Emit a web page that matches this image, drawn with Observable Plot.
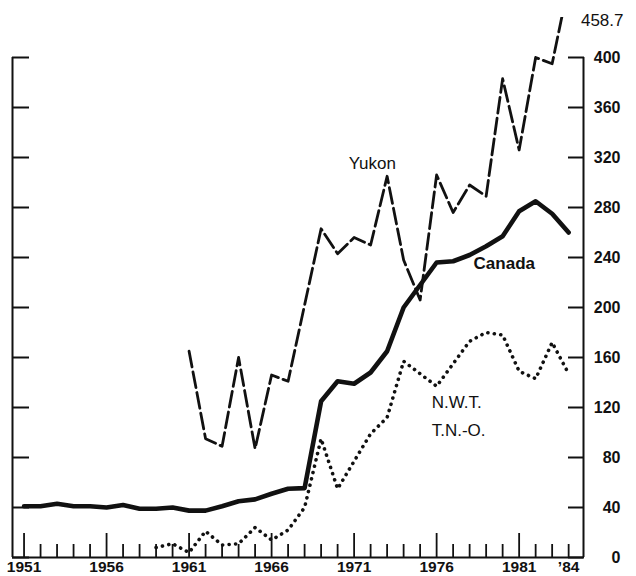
<!DOCTYPE html>
<html><head><meta charset="utf-8">
<script src="https://cdn.jsdelivr.net/npm/d3@7"></script>
<script src="https://cdn.jsdelivr.net/npm/@observablehq/plot@0.6"></script>
<style>html,body{margin:0;padding:0;background:#fff}#chart svg{display:block}</style>
</head><body><div id="chart"></div>
<script>
// ---- data ----
const canadaYears  = [1951,1952,1953,1954,1955,1956,1957,1958,1959,1960,1961,1962,1963,1964,1965,1966,1967,1968,1969,1970,1971,1972,1973,1974,1975,1976,1977,1978,1979,1980,1981,1982,1983,1984];
const canadaValues = [41,41,43,41,41,40,42,39,39,40,37.5,37.5,41,45,46.5,51,55,55.5,125,141,139,148,165,200,218,236,237,242,249,257,277,285,275,260];

const yukonYears  = [1961,1962,1963,1964,1965,1966,1967,1969,1970,1971,1972,1973,1974,1975,1976,1977,1978,1979,1980,1981,1982,1983,1984];
const yukonValues = [165,95,89,160,87,146,141,263,243,256,250,305,238,206,306,276,298,289,383,326,400,395,458.7];

const nwtYears  = [1959,1960,1961,1962,1963,1964,1965,1966,1967,1968,1969,1970,1971,1972,1973,1974,1975,1976,1977,1978,1979,1980,1981,1982,1983,1984];
const nwtValues = [8,11,4,21,10,11,24,14,22,40,95,55,77,99,112,157,147,137,155,173,180,178,149,143,172,147];

const yTicks      = [0,40,80,120,160,200,240,280,320,360,400];
const majorYears  = [1951,1956,1961,1966,1971,1976,1981];
const minorYears  = [1952,1953,1954,1955,1957,1958,1959,1960,1962,1963,1964,1965,1967,1968,1969,1970,1972,1973,1974,1975,1977,1978,1979,1980,1982,1983,1984];
const labelYears  = [1951,1956,1961,1966,1971,1976,1981,1984];
const labelText   = ["1951","1956","1961","1966","1971","1976","1981","’84"];

const annText = ["Yukon","Canada","N.W.T.","T.N.-O."];
const annX    = [1972.1,1980.1,1975.7,1975.7];
const annY    = [315,235,124,101.5];

const xDomain = [1950.3, 1984.9];
const yDomain = [0, 432];

// ---- build tables ----
const canada = canadaYears.map((y,i)=>({year:y, value:canadaValues[i]}));
const yukon  = yukonYears.map((y,i)=>({year:y, value:yukonValues[i]}));
const nwt    = nwtYears.map((y,i)=>({year:y, value:nwtValues[i]}));
const ann    = annText.map((t,i)=>({text:t, x:annX[i], y:annY[i]}));

const font = "'Liberation Sans', Arial, Helvetica, sans-serif";
const ink = "#111";

const chart = Plot.plot({
  width: 636, height: 576,
  marginLeft: 12, marginRight: 53, marginTop: 17, marginBottom: 19,
  style: {fontFamily: font, background: "#fff", color: ink, overflow: "visible"},
  x: {domain: xDomain, axis: null},
  y: {domain: yDomain, axis: null},
  marks: [
    // frame lines
    Plot.ruleY([0], {stroke: ink, strokeWidth: 2.2}),
    Plot.ruleX([xDomain[0]], {y1: 0, y2: yTicks[yTicks.length-1], stroke: ink, strokeWidth: 2}),
    Plot.ruleX([xDomain[1]], {y1: 0, y2: yTicks[yTicks.length-1], stroke: ink, strokeWidth: 2}),
    // inward ticks
    Plot.axisY(yTicks, {anchor: "left", tickSize: -17, strokeWidth: 2, tickFormat: () => "", label: null}),
    Plot.axisY(yTicks, {anchor: "right", tickSize: -16, strokeWidth: 2, tickFormat: () => "", label: null}),
    Plot.axisY(yTicks, {anchor: "right", tickSize: 0, tickPadding: 37, textAnchor: "end",
      fontSize: 16, fontWeight: "bold", tickFormat: d => String(d), label: null}),
    Plot.axisX(majorYears, {anchor: "bottom", tickSize: -24, strokeWidth: 1.8, tickFormat: () => "", label: null}),
    Plot.axisX(minorYears, {anchor: "bottom", tickSize: -13, strokeWidth: 1.8, tickFormat: () => "", label: null}),
    Plot.axisX(labelYears, {anchor: "bottom", tickSize: 0, tickPadding: 3, fontSize: 15.5, fontWeight: "bold",
      tickFormat: d => labelText[labelYears.indexOf(d)], label: null}),
    // series
    Plot.line(nwt, {x: "year", y: "value", stroke: ink, strokeWidth: 3.6, strokeDasharray: "0.1 6.4", strokeLinecap: "round"}),
    Plot.line(yukon, {x: "year", y: "value", stroke: ink, strokeWidth: 2.8, strokeDasharray: "16 5", clip: true}),
    Plot.line(canada, {x: "year", y: "value", stroke: ink, strokeWidth: 4.6, strokeLinejoin: "round"}),
    // annotations
    Plot.text(ann.filter(d => d.text === "Yukon"), {x: "x", y: "y", text: "text", fontSize: 17, fill: ink}),
    Plot.text(ann.filter(d => d.text === "Canada"), {x: "x", y: "y", text: "text", fontSize: 17, fontWeight: "bold", fill: ink}),
    Plot.text(ann.filter(d => d.text !== "Yukon" && d.text !== "Canada"), {x: "x", y: "y", text: "text", fontSize: 17,
      textAnchor: "start", fill: ink}),
    Plot.text([yukonValues[yukonValues.length-1]], {frameAnchor: "top-right", text: d => String(d),
      dx: 40, dy: 3, lineAnchor: "middle", textAnchor: "end", fontSize: 17, fill: ink})
  ]
});
document.getElementById("chart").appendChild(chart);
</script>
</body></html>
